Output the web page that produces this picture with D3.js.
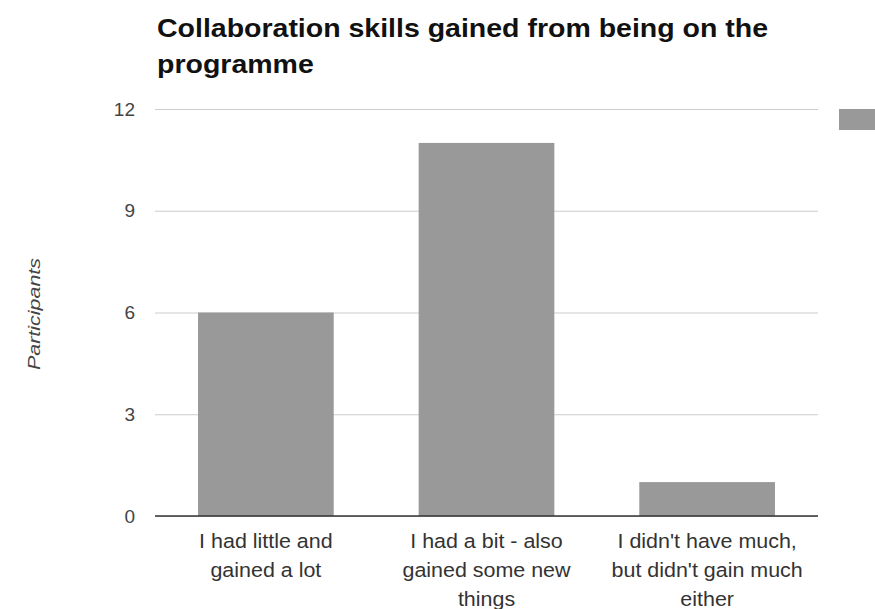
<!DOCTYPE html>
<html>
<head>
<meta charset="utf-8">
<script src="https://cdn.jsdelivr.net/npm/d3@7"></script>
<style>
  html, body { margin: 0; padding: 0; background: #fff; }
  svg { display: block; font-family: "Liberation Sans", Arial, sans-serif; }
</style>
</head>
<body>
<svg id="chart" width="875" height="609"></svg>
<script>
// Survey responses: how many participants fall in each category
const categories = [
  ["I had little and", "gained a lot"],
  ["I had a bit - also", "gained some new", "things"],
  ["I didn't have much,", "but didn't gain much", "either"]
];
const participants = [6, 11, 1];
const yTicks = [0, 3, 6, 9, 12];
const titleLines = ["Collaboration skills gained from being on the", "programme"];
const yAxisTitle = "Participants";

const svg = d3.select("#chart");
const plot = { left: 155, right: 818, top: 109, bottom: 516 };

const x = d3.scaleBand()
  .domain(d3.range(categories.length))
  .range([plot.left, plot.right])
  .paddingInner(0.385)
  .paddingOuter(0.195);

const y = d3.scaleLinear()
  .domain([0, 12])
  .range([plot.bottom, plot.top]);

// Title (slightly widened glyphs)
const title = svg.append("g").attr("transform", "translate(157,0) scale(1.14,1)");
title.selectAll("text")
  .data(titleLines)
  .join("text")
  .attr("x", 0)
  .attr("y", (d, i) => 37 + i * 36)
  .attr("font-size", 25)
  .attr("font-weight", "bold")
  .attr("fill", "#111")
  .text(d => d);

// Horizontal gridlines and tick labels
const yAxis = d3.axisLeft(y).tickValues(yTicks).tickSize(-(plot.right - plot.left)).tickPadding(20);
const gy = svg.append("g")
  .attr("transform", `translate(${plot.left},0)`)
  .call(yAxis);
gy.select(".domain").remove();
gy.selectAll(".tick line").attr("stroke", "#cccccc").attr("stroke-width", 1);
gy.selectAll(".tick text")
  .attr("font-size", 19)
  .attr("fill", "#444")
  .attr("font-family", "Liberation Sans, Arial, sans-serif");

// Bars
svg.append("g")
  .selectAll("rect")
  .data(participants)
  .join("rect")
  .attr("x", (d, i) => x(i))
  .attr("y", d => y(d))
  .attr("width", x.bandwidth())
  .attr("height", d => y(0) - y(d))
  .attr("fill", "#999999");

// Baseline
svg.append("line")
  .attr("x1", plot.left).attr("x2", plot.right)
  .attr("y1", y(0)).attr("y2", y(0))
  .attr("stroke", "#333").attr("stroke-width", 1.5);

// Category labels
const gx = svg.append("g");
categories.forEach((lines, i) => {
  const t = gx.append("text")
    .attr("transform", `translate(${x(i) + x.bandwidth() / 2},0) scale(1.1,1)`)
    .attr("text-anchor", "middle")
    .attr("font-size", 19.5)
    .attr("fill", "#333");
  lines.forEach((ln, j) => {
    t.append("tspan")
      .attr("x", 0)
      .attr("y", 548 + j * 29)
      .text(ln);
  });
});

// Axis title
svg.append("text")
  .attr("transform", `translate(40,${(258 + 370) / 2}) rotate(-90)`)
  .attr("text-anchor", "middle")
  .attr("font-size", 16.5)
  .attr("font-style", "italic")
  .attr("fill", "#444")
  .attr("textLength", 112)
  .attr("lengthAdjust", "spacingAndGlyphs")
  .text(yAxisTitle);

// Legend swatch (series key)
svg.append("rect")
  .attr("x", 839).attr("y", 109)
  .attr("width", 40).attr("height", 21)
  .attr("fill", "#999999");
</script>
</body>
</html>
